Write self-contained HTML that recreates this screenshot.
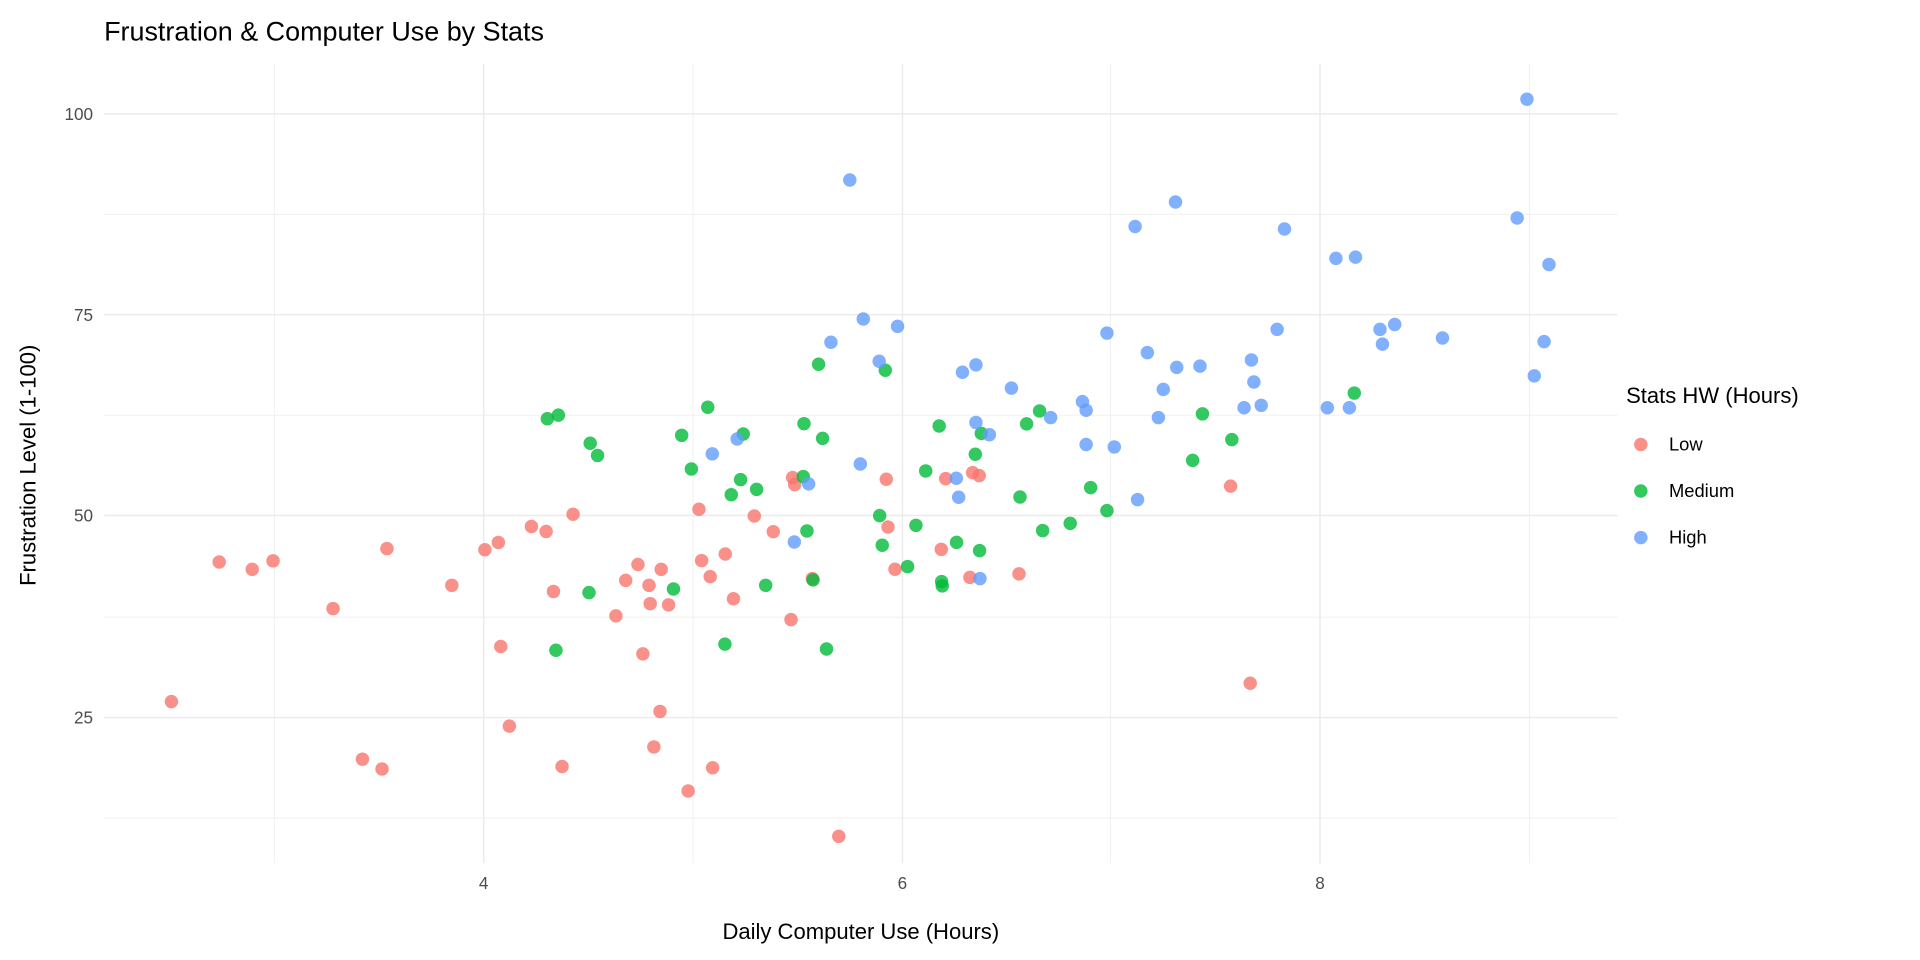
<!DOCTYPE html>
<html><head><meta charset="utf-8"><style>
html,body{margin:0;padding:0;background:#fff}
svg{display:block}
text{font-family:"Liberation Sans",sans-serif}
</style></head><body>
<svg width="1920" height="960" viewBox="0 0 1568 784" xmlns="http://www.w3.org/2000/svg">
<rect width="1568" height="784" fill="#fff"/>
<g stroke="#ebebeb" stroke-width="0.6">
<line x1="85" x2="1321" y1="175" y2="175"/><line x1="85" x2="1321" y1="339" y2="339"/><line x1="85" x2="1321" y1="504" y2="504"/><line x1="85" x2="1321" y1="668" y2="668"/>
<line y1="52" y2="705" x1="224" x2="224"/><line y1="52" y2="705" x1="566" x2="566"/><line y1="52" y2="705" x1="907" x2="907"/><line y1="52" y2="705" x1="1249" x2="1249"/>
</g>
<g stroke="#ebebeb" stroke-width="1.2">
<line x1="85" x2="1321" y1="93" y2="93"/><line x1="85" x2="1321" y1="257" y2="257"/><line x1="85" x2="1321" y1="421" y2="421"/><line x1="85" x2="1321" y1="586" y2="586"/>
<line y1="52" y2="705" x1="395" x2="395"/><line y1="52" y2="705" x1="737" x2="737"/><line y1="52" y2="705" x1="1078" x2="1078"/>
</g>
<g font-size="14" fill="#4d4d4d" text-anchor="end">
<text x="76" y="98">100</text><text x="76" y="262">75</text><text x="76" y="426">50</text><text x="76" y="591">25</text>
</g>
<g font-size="14" fill="#4d4d4d" text-anchor="middle">
<text x="395" y="726">4</text><text x="737" y="726">6</text><text x="1078" y="726">8</text>
</g>
<text x="85" y="33" font-size="22" fill="#000">Frustration &amp; Computer Use by Stats</text>
<text x="703" y="767" font-size="18" text-anchor="middle" fill="#000">Daily Computer Use (Hours)</text>
<text transform="translate(29,380) rotate(-90)" font-size="18" text-anchor="middle" fill="#000">Frustration Level (1-100)</text>
<text x="1328" y="329" font-size="18" fill="#000">Stats HW (Hours)</text>
<circle cx="1340" cy="363" r="5.5" fill="#F8766D" fill-opacity="0.8"/>
<circle cx="1340" cy="401" r="5.5" fill="#00BA38" fill-opacity="0.8"/>
<circle cx="1340" cy="439" r="5.5" fill="#619CFF" fill-opacity="0.8"/>
<g font-size="15" fill="#000"><text x="1363" y="368">Low</text><text x="1363" y="406">Medium</text><text x="1363" y="444">High</text></g>
<g fill="#F8766D" fill-opacity="0.8" id="red">
</g>
<g fill="#00BA38" fill-opacity="0.8" id="green"></g>
<g fill="#619CFF" fill-opacity="0.8" id="blue"></g>
</svg>
<script>
const R=[[140,573],[179,459],[206,465],[223,458],[272,497],[296,620],[312,628],[316,448],[369,478],[396,449],[407,443],[409,528],[416,593],[434,430],[446,434],[452,483],[459,626],[468,420],[503,503],[511,474],[521,461],[525,534],[530,478],[531,493],[534,610],[539,581],[540,465],[546,494],[562,646],[582,627],[599,489],[646,506],[685,683],[1005,397],[1021,558],
[647.3,390],[649,395.8],[723.8,391.4],[772.3,390.9],[794.3,386],[799.7,388.4],[570.8,415.9],[616,421.4],[631.5,434.2],[725.2,430.4],[592.3,452.4],[573,457.8],[580,470.9],[663.4,472.5],[730.9,464.9],[768.7,448.6],[792.1,471.5],[832.2,468.7]];
const G=[[447,342],[456,339],[482,362],[488,372],[454,531],[481,484],[550,481],[592,526],[675,530],[904,417],[974,376],[982,338],[1006,359],[1106,321],
[668.5,297.5],[723,302.4],[578,332.6],[849,335.6],[556.7,355.5],[607,354.4],[656.6,346],[671.8,358],[767,347.9],[801.4,353.9],[838.4,346.2],[796.5,371],[564.6,383],[604.8,391.7],[656,389.2],[617.9,399.6],[597.2,404],[756,384.6],[833,405.9],[890.7,398.2],[718.4,421.1],[748,429],[659,433.6],[851.5,433.3],[874,427.4],[720.5,445.3],[781.2,442.9],[800,449.7],[741.2,462.7],[769,475],[769.5,478.5],[625.3,478],[664,473.6]];
const B=[[694,147],[1247,81],[960,165],[927,185],[1049,187],[1239,178],[1091,211],[1107,210],[1265,216],[1139,265],[1127,269],[1043,269],[1178,276],[1261,279],[904,272],[937,288],[961,300],[980,299],[950,318],[1022,294],[1024,312],[1253,307],[1129,281],[1084,333],[1102,333],[1016,333],[1030,331],[946,341],[910,365],[929,408],
[705,260.5],[733,266.5],[678.6,279.5],[718,295],[786,304],[797,298],[826,317],[884,328],[887,335],[858,341],[797,345],[808,355],[887,363],[602,358.5],[581.7,370.7],[702.6,378.9],[660.4,395.2],[781,390.6],[782.9,406.1],[648.7,442.6],[800.3,472.5]];
const ns="http://www.w3.org/2000/svg";
function add(id,arr){const g=document.getElementById(id);arr.forEach(p=>{const c=document.createElementNS(ns,"circle");c.setAttribute("cx",p[0]);c.setAttribute("cy",p[1]);c.setAttribute("r",5.5);g.appendChild(c);});}
add("red",R);add("green",G);add("blue",B);
</script>
</body></html>
